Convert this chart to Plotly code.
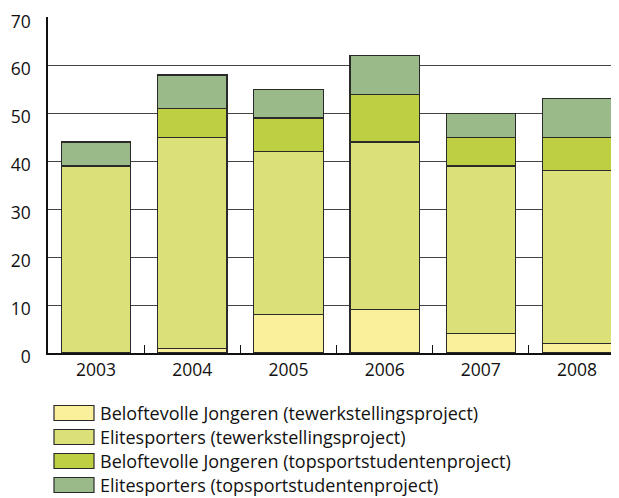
import plotly.graph_objects as go

years = ["2003", "2004", "2005", "2006", "2007", "2008"]
series_names = [
    "Beloftevolle Jongeren (tewerkstellingsproject)",
    "Elitesporters (tewerkstellingsproject)",
    "Beloftevolle Jongeren (topsportstudentenproject)",
    "Elitesporters (topsportstudentenproject)",
]
beloftevolle_tewerk = [0, 1, 8, 9, 4, 2]
elite_tewerk = [39, 44, 34, 35, 35, 36]
beloftevolle_topsport = [0, 6, 7, 10, 6, 7]
elite_topsport = [5, 7, 6, 8, 5, 8]
y_ticks = [0, 10, 20, 30, 40, 50, 60, 70]

colors = ["#FAEF9B", "#DCE079", "#BFCF42", "#9ABB89"]
values = [beloftevolle_tewerk, elite_tewerk, beloftevolle_topsport, elite_topsport]

FONT = "Open Sans"
OFF = 8  # page body margin

fig = go.Figure()
for name, vals, col in zip(series_names, values, colors):
    fig.add_trace(go.Bar(
        x=years, y=vals, name=name,
        marker=dict(color=col, line=dict(color="#2a2a2a", width=1.2)),
        width=0.72, showlegend=False,
    ))

W, H = 619 - OFF, 498 - OFF
L, R, T, B = 48 - OFF, 0, 17 - OFF, 498 - 353
fig.update_layout(
    width=W, height=H,
    barmode="stack",
    margin=dict(l=L, r=R, t=T, b=B, pad=0),
    paper_bgcolor="white", plot_bgcolor="white",
    font=dict(family=FONT, size=17, color="#111"),
    xaxis=dict(
        type="category", range=[-0.5, 5.436],
        showline=True, linecolor="#111", linewidth=1.5,
        ticks="inside", tickson="boundaries", ticklen=8, tickcolor="#111",
        tickwidth=1, showgrid=False, tickfont=dict(size=17.5),
    ),
    yaxis=dict(
        range=[0, 70.08], tickvals=y_ticks,
        showline=True, linecolor="#111", linewidth=1.5,
        showgrid=True, gridcolor="#444", gridwidth=1.3,
        ticks="", ticklabelstandoff=12, ticklabelshift=4,
        tickfont=dict(size=17.5),
        ticklabeloverflow="allow", automargin=False,
        zeroline=False,
    ),
)

PW = W - L - R
PH = H - T - B

def px_x(x):
    return (x - OFF - L) / PW

def px_y(y):
    return 1 - (y - OFF - T) / PH

# manual legend
row_y = [413, 437, 461, 485]
for name, col, yc in zip(series_names, colors, row_y):
    fig.add_shape(type="rect", xref="paper", yref="paper",
                  x0=px_x(54), x1=px_x(94),
                  y0=px_y(yc + 7.5), y1=px_y(yc - 7.5),
                  fillcolor=col, line=dict(color="#2a2a2a", width=1.2))
    fig.add_annotation(xref="paper", yref="paper",
                       x=px_x(98), y=px_y(yc),
                       text=name, showarrow=False, xanchor="left", yanchor="middle",
                       font=dict(size=18, family=FONT, color="#111"))

fig.write_html("out.html")
